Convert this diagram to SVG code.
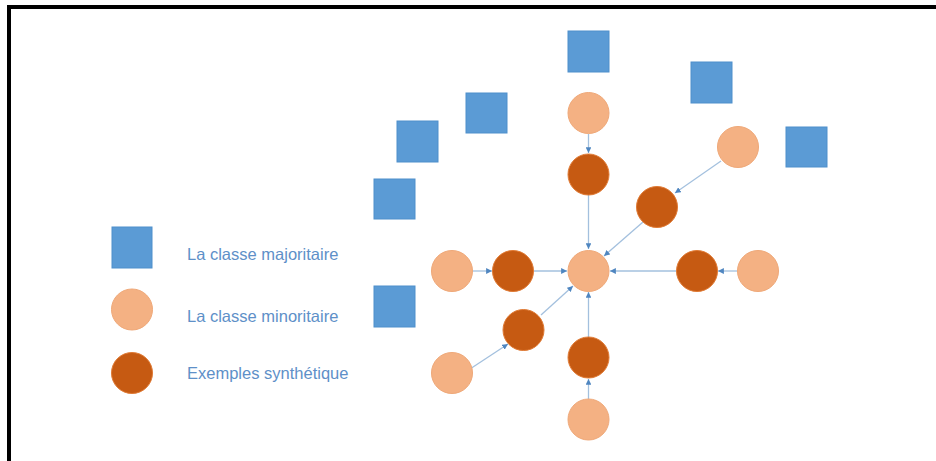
<svg xmlns="http://www.w3.org/2000/svg" width="936" height="461" viewBox="0 0 936 461">
<defs>
<style>
.maj{fill:#5b9bd5;stroke:#4f8fcb;stroke-width:1}
.min{fill:#f4b183;stroke:#efa878;stroke-width:1}
.syn{fill:#c65a12;stroke:#e07a34;stroke-width:1}
.lbl{font-family:"Liberation Sans",Arial,sans-serif;font-size:16.5px;fill:#5e90c8}
.con line{stroke:#a3c0de;stroke-width:1.3;marker-end:url(#ah)}
</style>
<marker id="ah" viewBox="0 0 10 10" refX="10" refY="5" markerWidth="4.5" markerHeight="4.5" orient="auto" markerUnits="strokeWidth">
<path d="M0,0 L10,5 L0,10 z" fill="#4f86c0"/>
</marker>
</defs>
<rect x="0" y="0" width="936" height="461" fill="#ffffff"/>
<rect x="7" y="5" width="929" height="4" fill="#000"/>
<rect x="7" y="5" width="4" height="456" fill="#000"/>

<g id="legend">
<g id="leg-maj"><rect class="maj" x="112" y="227" width="40" height="41"/><text class="lbl" x="187" y="260">La classe majoritaire</text></g>
<g id="leg-min"><circle class="min" cx="132" cy="309.5" r="20.5"/><text class="lbl" x="187" y="322">La classe minoritaire</text></g>
<g id="leg-syn"><circle class="syn" cx="132" cy="373" r="20.5"/><text class="lbl" x="187" y="379">Exemples synthétique</text></g>
</g>

<g class="con" id="connectors">
<line x1="588.5" y1="134" x2="588.5" y2="153"/>
<line x1="588.5" y1="195" x2="588.5" y2="249"/>
<line x1="721" y1="161" x2="675" y2="193"/>
<line x1="643" y1="222" x2="604" y2="256"/>
<line x1="473" y1="271" x2="492" y2="271"/>
<line x1="534" y1="271" x2="567" y2="271"/>
<line x1="676" y1="271" x2="610" y2="271"/>
<line x1="737" y1="271" x2="718" y2="271"/>
<line x1="470" y1="369" x2="508" y2="344"/>
<line x1="541" y1="315" x2="573" y2="286"/>
<line x1="588.5" y1="337" x2="588.5" y2="292"/>
<line x1="588.5" y1="399" x2="588.5" y2="379"/>
</g>

<g id="sq1"><rect class="maj" x="568" y="31" width="41" height="41"/></g>
<g id="sq2"><rect class="maj" x="691" y="62" width="41" height="41"/></g>
<g id="sq3"><rect class="maj" x="786" y="127" width="41" height="40"/></g>
<g id="sq4"><rect class="maj" x="466" y="93" width="41" height="40"/></g>
<g id="sq5"><rect class="maj" x="397" y="121" width="41" height="41"/></g>
<g id="sq6"><rect class="maj" x="374" y="179" width="41" height="40"/></g>
<g id="sq7"><rect class="maj" x="374" y="286" width="41" height="41"/></g>

<g id="min-top"><circle class="min" cx="588.5" cy="113" r="20.5"/></g>
<g id="min-tr"><circle class="min" cx="738" cy="147" r="20.5"/></g>
<g id="min-center"><circle class="min" cx="588.5" cy="271" r="20.5"/></g>
<g id="min-left"><circle class="min" cx="452" cy="271" r="20.5"/></g>
<g id="min-right"><circle class="min" cx="758" cy="271" r="20.5"/></g>
<g id="min-bl"><circle class="min" cx="452" cy="373" r="20.5"/></g>
<g id="min-bottom"><circle class="min" cx="588.5" cy="419.5" r="20.5"/></g>

<g id="syn-top"><circle class="syn" cx="588.5" cy="174.5" r="20.5"/></g>
<g id="syn-tr"><circle class="syn" cx="657" cy="207" r="20.5"/></g>
<g id="syn-left"><circle class="syn" cx="513" cy="271" r="20.5"/></g>
<g id="syn-right"><circle class="syn" cx="697" cy="271" r="20.5"/></g>
<g id="syn-bl"><circle class="syn" cx="523.5" cy="330" r="20.5"/></g>
<g id="syn-bottom"><circle class="syn" cx="588.5" cy="357.5" r="20.5"/></g>
</svg>
